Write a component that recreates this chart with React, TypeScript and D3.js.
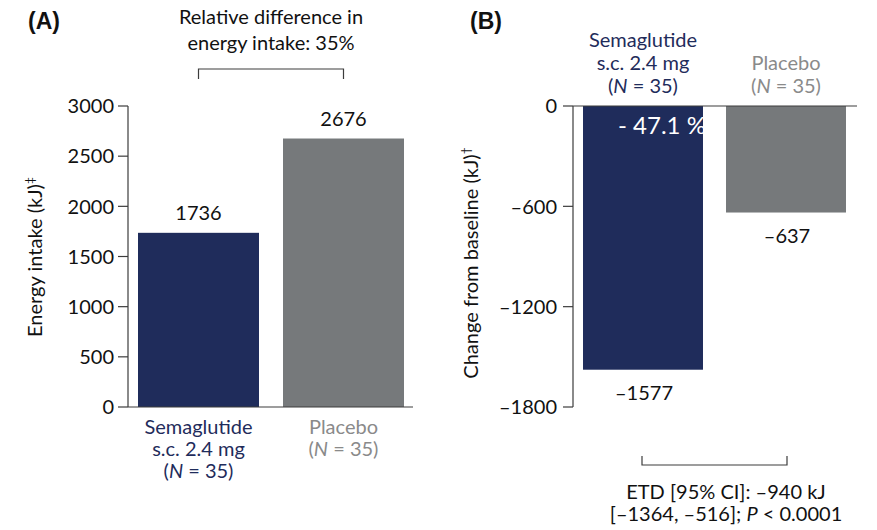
import React from "react";
import * as d3 from "d3";

// Treatment groups and values
const groups = ["Semaglutide", "Placebo"];
const energyIntake = [1736, 2676];
const changeFromBaseline = [-1577, -637];
const intakeTicks = [0, 500, 1000, 1500, 2000, 2500, 3000];
const changeTicks = [0, -600, -1200, -1800];
const groupLines = [
  ["Semaglutide", "s.c. 2.4 mg", "(N = 35)"],
  ["Placebo", "(N = 35)"],
];
const relativeDiffText = ["Relative difference in", "energy intake: 35%"];
const etdText = ["ETD [95% CI]: \u2013940 kJ", "[\u20131364, \u2013516]; P < 0.0001"];
const percentChange = "- 47.1 %";

const NAVY = "#1f2c5b";
const GREY = "#76797b";
const LABEL_GREY = "#8a8a8a";
const AXIS = "#3c3c3c";
const FONT = "Lato, 'Open Sans', sans-serif";
const FS = 20;

const fmt = (v: number) => (v < 0 ? "\u2013" + Math.abs(v) : String(v));

// Renders "(N = 35)" with an italic N
function NLine({ text }: { text: string }) {
  const parts = text.split("N");
  if (parts.length < 2) return <>{text}</>;
  return (
    <>
      {parts[0]}
      <tspan fontStyle="italic">N</tspan>
      {parts[1]}
    </>
  );
}

export default function App() {
  const W = 877;
  const H = 530;

  // Panel A scales
  const xA = d3.scaleBand<string>().domain(groups).range([128, 414]).paddingInner(0.1655).paddingOuter(0.069);
  const yA = d3.scaleLinear().domain([0, 3000]).range([407, 106]);

  // Panel B scales
  const xB = d3.scaleBand<string>().domain(groups).range([573, 856]).paddingInner(0.161).paddingOuter(0.07);
  const yB = d3.scaleLinear().domain([-1800, 0]).range([407, 106]);

  const colors = [NAVY, GREY];
  const textColors = [NAVY, LABEL_GREY];
  const axisXA = 128;
  const axisXB = 573;

  return (
    <svg width={W} height={H} style={{ display: "block", position: "absolute", left: 0, top: 0 }} fontFamily={FONT}>
      <defs>
        <clipPath id="semaClip">
          <rect
            x={xB(groups[0])}
            y={yB(0)}
            width={xB.bandwidth()}
            height={yB(changeFromBaseline[0]) - yB(0)}
          />
        </clipPath>
      </defs>

      {/* Panel letters */}
      <text x={28} y={29} fontFamily="'Liberation Sans', Arial, sans-serif" fontWeight="bold" fontSize={23} fill="#111">(A)</text>
      <text x={470} y={29} fontFamily="'Liberation Sans', Arial, sans-serif" fontWeight="bold" fontSize={23} fill="#111">(B)</text>

      {/* ---------- Panel A ---------- */}
      {relativeDiffText.map((t, i) => (
        <text key={t} x={271} y={24 + i * 26} textAnchor="middle" fontSize={FS} fill="#111">{t}</text>
      ))}
      <path
        d={`M${xA(groups[0])! + xA.bandwidth() / 2},79V69H${xA(groups[1])! + xA.bandwidth() / 2}V79`}
        fill="none"
        stroke={AXIS}
        strokeWidth={1.2}
      />

      {groups.map((g, i) => (
        <rect key={g} x={xA(g)} y={yA(energyIntake[i])} width={xA.bandwidth()} height={yA(0) - yA(energyIntake[i])} fill={colors[i]} />
      ))}
      {groups.map((g, i) => (
        <text key={g} x={xA(g)! + xA.bandwidth() / 2} y={yA(energyIntake[i]) - 13} textAnchor="middle" fontSize={FS} fill="#111">
          {fmt(energyIntake[i])}
        </text>
      ))}

      {/* y axis A */}
      <line x1={axisXA} x2={axisXA} y1={yA(3000)} y2={yA(0)} stroke={AXIS} strokeWidth={1.2} />
      <line x1={axisXA} x2={413} y1={yA(0)} y2={yA(0)} stroke={AXIS} strokeWidth={1.2} />
      {intakeTicks.map((t) => (
        <g key={t}>
          <line x1={axisXA - 10} x2={axisXA} y1={yA(t)} y2={yA(t)} stroke={AXIS} strokeWidth={1.2} />
          <text x={axisXA - 14} y={yA(t)} dy="0.36em" textAnchor="end" fontSize={FS} fill="#111">{fmt(t)}</text>
        </g>
      ))}
      <text transform={`translate(42,257) rotate(-90)`} textAnchor="middle" fontSize={FS} fill="#111">
        Energy intake (kJ)<tspan fontSize={12} dy={-8}>‡</tspan>
      </text>

      {groups.map((g, i) =>
        groupLines[i].map((line, j) => (
          <text key={g + j} x={xA(g)! + xA.bandwidth() / 2} y={434 + j * 22} textAnchor="middle" fontSize={FS} fill={textColors[i]}>
            <NLine text={line} />
          </text>
        ))
      )}

      {/* ---------- Panel B ---------- */}
      {groups.map((g, i) => (
        <rect key={g} x={xB(g)} y={yB(0)} width={xB.bandwidth()} height={yB(changeFromBaseline[i]) - yB(0)} fill={colors[i]} />
      ))}
      <text
        x={xB(groups[0])! + 35}
        y={yB(0) + 28}
        fontSize={24}
        fill="#ffffff"
        clipPath="url(#semaClip)"
      >
        {percentChange}
      </text>
      {groups.map((g, i) => (
        <text key={g} x={xB(g)! + xB.bandwidth() / 2 + 1} y={yB(changeFromBaseline[i]) + 30} textAnchor="middle" fontSize={FS} fill="#111">
          {fmt(changeFromBaseline[i])}
        </text>
      ))}

      <line x1={axisXB} x2={axisXB} y1={yB(0)} y2={yB(-1800)} stroke={AXIS} strokeWidth={1.2} />
      <line x1={axisXB} x2={857} y1={yB(0)} y2={yB(0)} stroke={AXIS} strokeWidth={1.2} />
      {changeTicks.map((t) => (
        <g key={t}>
          <line x1={axisXB - 10} x2={axisXB} y1={yB(t)} y2={yB(t)} stroke={AXIS} strokeWidth={1.2} />
          <text x={axisXB - 16} y={yB(t)} dy="0.36em" textAnchor="end" fontSize={FS} fill="#111">{fmt(t)}</text>
        </g>
      ))}
      <text transform={`translate(478,263) rotate(-90)`} textAnchor="middle" fontSize={FS} fill="#111">
        Change from baseline (kJ)<tspan fontSize={12} dy={-8}>†</tspan>
      </text>

      {groups.map((g, i) => {
        const lines = groupLines[i];
        const n = lines.length;
        return lines.map((line, j) => (
          <text key={g + j} x={xB(g)! + xB.bandwidth() / 2} y={93 - (n - 1 - j) * 23} textAnchor="middle" fontSize={FS} fill={textColors[i]}>
            <NLine text={line} />
          </text>
        ));
      })}

      <path
        d={`M${xB(groups[0])! + xB.bandwidth() / 2 - 1},456V465H${xB(groups[1])! + xB.bandwidth() / 2 + 1}V456`}
        fill="none"
        stroke={AXIS}
        strokeWidth={1.2}
      />
      <text x={726} y={499} textAnchor="middle" fontSize={FS} fill="#111">{etdText[0]}</text>
      <text x={726} y={521} textAnchor="middle" fontSize={FS} fill="#111">
        {etdText[1].split("P")[0]}
        <tspan fontStyle="italic">P</tspan>
        {etdText[1].split("P")[1]}
      </text>
    </svg>
  );
}
